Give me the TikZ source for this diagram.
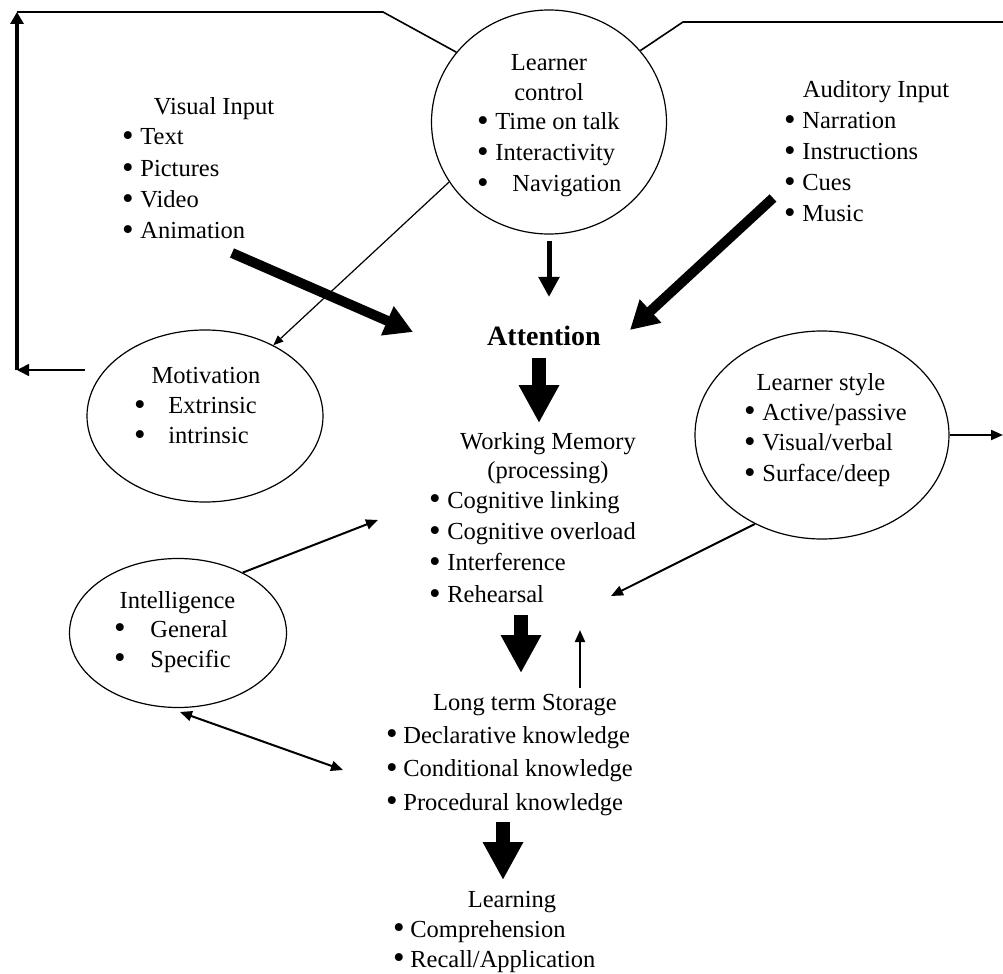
\documentclass[tikz,border=0pt]{standalone}
\usepackage{fontspec}
\setmainfont{Liberation Serif}
\usetikzlibrary{arrows.meta, shapes.geometric}

\newcommand\bl[1]{\smash{\raisebox{-0.9pt}{\scalebox{1.35}{\textbullet}}}\hspace{\dimexpr#1-1.5pt\relax}}
\newcommand\lst[1]{\begin{tabular}[t]{@{}l@{}}#1\end{tabular}}
\newcommand\ctr[1]{\begin{tabular}[t]{@{}c@{}}#1\end{tabular}}

\begin{document}
\begin{tikzpicture}[
  x=0.5pt, y=-0.5pt,
  font=\fontsize{12.25pt}{15.5pt}\selectfont,
  bubble/.style={ellipse, draw, line width=0.6pt, inner sep=0pt},
  head/.style={inner sep=0pt, anchor=base},
  items/.style={inner sep=0pt, anchor=base west, font=\fontsize{12.25pt}{#1}\selectfont},
  fatarrow/.style={line width=7pt, -{Triangle[length=19pt, width=19pt]}},
  widearrow/.style={line width=5pt, -{Triangle[length=14pt, width=15pt]}},
  midarrow/.style={line width=2.5pt, -{Triangle[length=10pt, width=10pt]}},
  thinarrow/.style={line width=1pt, -{Triangle[length=6pt, width=5pt]}},
  plainline/.style={line width=0.8pt}
]
\useasboundingbox (0,0) rectangle (1003,974);

% ellipses
\node[bubble, minimum width=117.5pt, minimum height=112pt] (lc) at (549,122) {};
\node[bubble, minimum width=118pt, minimum height=86pt] (mot) at (205,416) {};
\node[bubble, minimum width=127pt, minimum height=104pt] (ls) at (822,435) {};
\node[bubble, minimum width=108.5pt, minimum height=74.5pt] (intel) at (178,633) {};

% texts
\node[head, font=\fontsize{12.25pt}{15pt}\selectfont] (lctitle) at (549,71) {\ctr{Learner\\control}};
\node[items=15.5pt] (lclist) at (476.7,130) {\lst{\bl{4.85pt}Time on talk\\ \bl{4.85pt}Interactivity\\ \bl{13.35pt}Navigation}};

\node[head] (vistitle) at (214,115) {Visual Input};
\node[items=15.65pt] (vis) at (121.7,145) {\lst{\bl{4.85pt}Text\\ \bl{4.85pt}Pictures\\ \bl{4.85pt}Video\\ \bl{4.85pt}Animation}};

\node[head] (audtitle) at (876,98) {Auditory Input};
\node[items=15.5pt] (aud) at (783.7,129) {\lst{\bl{4.85pt}Narration\\ \bl{4.85pt}Instructions\\ \bl{4.85pt}Cues\\ \bl{4.85pt}Music}};

\node[head, font=\fontsize{14pt}{16pt}\selectfont\bfseries] (att) at (544,345) {Attention};

\node[head, font=\fontsize{12.25pt}{14.5pt}\selectfont] (wmtitle) at (548,449) {\ctr{Working Memory\\(processing)}};
\node[items=15.75pt] (wm) at (428.7,508) {\lst{\bl{4.85pt}Cognitive linking\\ \bl{4.85pt}Cognitive overload\\ \bl{4.85pt}Interference\\ \bl{4.85pt}Rehearsal}};

\node[head] (mottitle) at (206,383) {Motivation};
\node[items=15pt] (motlist) at (133.7,414) {\lst{\bl{12.85pt}Extrinsic\\ \bl{12.85pt}intrinsic}};

\node[head] (lstitle) at (821,390) {Learner style};
\node[items=15.5pt] (lslist) at (743.7,420) {\lst{\bl{4.85pt}Active/passive\\ \bl{4.85pt}Visual/verbal\\ \bl{4.85pt}Surface/deep}};

\node[head] (inttitle) at (177.5,608) {Intelligence};
\node[items=15pt] (intlist) at (113.7,637) {\lst{\bl{13.85pt}General\\ \bl{13.85pt}Specific}};

\node[head] (ltstitle) at (525,710) {Long term Storage};
\node[items=16.75pt] (lts) at (385.7,743) {\lst{\bl{4.35pt}Declarative knowledge\\ \bl{4.35pt}Conditional knowledge\\ \bl{4.35pt}Procedural knowledge}};

\node[head] (learntitle) at (512,907) {Learning};
\node[items=15pt] (learn) at (392.7,937) {\lst{\bl{4.35pt}Comprehension\\ \bl{4.35pt}Recall/Application}};

% free ends
\coordinate (loopA) at (85,370);
\coordinate (loopB) at (17,370);
\coordinate (loopC) at (17,12);
\coordinate (loopD) at (383,12);
\coordinate (loopE) at (683,22);
\coordinate (loopF) at (1003,22);
\coordinate (lsout) at (1003,435);
\coordinate (visout) at (232,253);
\coordinate (attw) at (413,332);
\coordinate (audout) at (773,198);
\coordinate (atte) at (630,330);
\coordinate (attn) at (549,297);
\coordinate (atts) at (539,358);
\coordinate (wmn) at (539,423);
\coordinate (wms) at (521,615);
\coordinate (ltsn) at (521,673);
\coordinate (ltsup) at (580,688);
\coordinate (wmup) at (580,630);
\coordinate (ltss) at (503,822);
\coordinate (learnn) at (503,880);
\coordinate (wmw) at (378,520);
\coordinate (wme) at (611,596);
\coordinate (intb) at (180,712);
\coordinate (ltsw) at (343,770);

% connectors
\draw[plainline, -{Triangle[length=6pt, width=6pt]}] (loopA) -- (loopB);
\draw[line width=1.8pt, -{Triangle[length=6pt, width=6.5pt]}] (loopB) -- (loopC);
\draw[plainline] (loopC) -- (loopD) -- (lc.143);
\draw[plainline] (lc.38) -- (loopE) -- (loopF);
\draw[thinarrow] (ls.east) -- (lsout);

\draw[widearrow] (visout) -- (attw);
\draw[widearrow] (audout) -- (atte);
\draw[midarrow] ([yshift=-3pt]lc.south) -- (attn);
\draw[line width=0.6pt, -{Triangle[length=5pt, width=4pt]}] (lc.211) -- (mot.46);

\draw[fatarrow] (atts) -- (wmn);
\draw[fatarrow] (wms) -- (ltsn);
\draw[fatarrow] (ltss) -- (learnn);
\draw[thinarrow] (ltsup) -- (wmup);

\draw[thinarrow] (intel.43) -- (wmw);
\draw[thinarrow] (ls.233) -- (wme);
\draw[line width=1pt, {Triangle[length=6pt, width=5pt]}-{Triangle[length=6pt, width=5pt]}] (intb) -- (ltsw);
\end{tikzpicture}
\end{document}
